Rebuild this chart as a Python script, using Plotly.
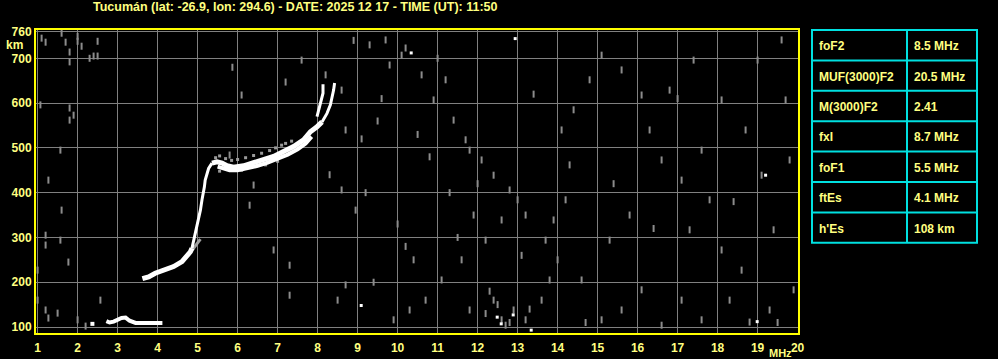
import plotly.graph_objects as go

# ---------------- data ----------------
title_text = "Tucumán (lat: -26.9, lon: 294.6) - DATE: 2025 12 17 - TIME (UT): 11:50"

x_ticks = list(range(1, 21))
y_ticks = [100, 200, 300, 400, 500, 600, 700, 760]

# F trace (o-mode), split where the trace width changes
f_low = [3.62, 3.775, 3.94, 4.15, 4.40, 4.61, 4.735, 4.82, 4.86]
h_low = [208, 212, 220, 227, 235, 246, 257, 268, 276]

f_rise = [4.86, 4.94, 4.985, 5.025, 5.07, 5.11, 5.15, 5.17, 5.19, 5.235, 5.275, 5.36]
h_rise = [276, 309, 324, 346, 361, 384, 399, 413, 428, 443, 454, 466]

f_mid = [5.36, 5.485, 5.61, 5.735, 5.90, 6.15, 6.40, 6.65, 6.90, 7.15, 7.40, 7.65, 7.82, 7.985, 8.11]
h_mid = [466, 469, 466, 460, 457, 460, 467, 474, 481, 492, 503, 518, 536, 547, 558]

# second echo band just under the main F trace
f_mid2 = [5.5, 5.65, 5.8, 6.0, 6.25, 6.5, 6.75, 7.0, 7.25, 7.5, 7.7, 7.85]
h_mid2 = [458, 453, 450, 450, 454, 460, 467, 475, 485, 497, 510, 525]

# gray speckle above the band
f_halo = [5.45, 5.55, 5.7, 5.85, 6.0, 6.2, 6.4, 6.6, 6.8, 6.95, 7.1, 7.2, 7.35, 5.55, 6.1, 6.7, 7.0]
h_halo = [478, 482, 476, 472, 474, 478, 483, 488, 494, 500, 506, 510, 515, 448, 450, 462, 470]

# upper ends of the two branches
f_top_a = [8.11, 8.235, 8.32, 8.36, 8.40, 8.425]
h_top_a = [558, 577, 596, 611, 629, 645]
f_top_b = [7.985, 8.07, 8.135, 8.135]
h_top_b = [570, 600, 622, 642]

# gray spur near the cusp
f_spur = [4.87, 4.95, 5.02, 5.07]
h_spur = [272, 282, 290, 296]

# sporadic E trace
f_es = [2.32, 2.42, None, 2.72, 2.8, 2.9, 3.0, 3.1, 3.2, 3.3, 3.45, 3.6, 3.8, 4.0, 4.12]
h_es = [107, 107, None, 113, 110, 112, 117, 120, 121, 114, 109, 109, 109, 109, 109]

# gray noise echoes
noise_f = [1.1, 1.2, 1.6, 1.7, 1.8, 1.8, 2.0, 2.0, 2.1, 2.4, 2.3, 2.5, 2.5,
           1.8, 1.9, 1.8, 1.07, 1.57, 1.27, 1.6, 1.2, 1.57, 1.2, 1.0, 1.77, 1.0, 1.2, 1.5, 1.27, 2.0, 2.2, 2.57,
           5.87, 6.1, 5.8, 6.4, 6.3, 6.9, 7.3, 8.2, 8.6, 8.7, 8.3, 8.6, 8.95, 8.7, 8.5, 7.3, 7.6, 7.2,
           9.3, 9.7, 9.8, 10.1, 10.2, 10.6, 10.9, 11.2, 11.4, 11.7, 11.8, 12.1, 12.4, 12.8, 13.0, 13.2,
           12.6, 12.2, 11.6, 11.1, 10.7, 10.3, 9.9, 11.8, 12.4, 12.6, 12.7, 12.9, 13.2, 13.6, 13.8, 13.7,
           13.9, 14.2, 14.3, 14.1, 14.4, 14.8, 15.1,
           15.6, 16.1, 16.3, 16.6, 17.1, 17.6, 17.8, 17.3, 18.1, 18.6, 19.1, 19.6, 19.7, 19.9, 19.3, 18.8,
           18.3, 17.6, 17.1, 16.6, 16.1, 15.6, 15.1, 14.6, 15.3, 15.8, 16.8, 17.4, 18.1, 18.7, 19.0, 19.4, 19.8,
           9.2, 9.5, 10.0, 10.4, 10.8, 11.0, 11.5, 12.0, 12.3, 12.5, 13.1, 13.4, 9.4, 10.5, 11.3,
           12.2, 12.8, 13.3, 9.6, 10.2, 11.9, 14.0, 14.7, 15.4, 16.4, 17.0, 18.4, 19.5, 8.9, 9.1]
noise_h = [745, 736, 756, 736, 714, 692, 749, 738, 727, 705, 700, 738, 705,
           589, 573, 562, 596, 495, 428, 361, 305, 294, 283, 227, 245, 160, 138, 131, 120, 116, 102, 160,
           680, 618, 484, 417, 372, 272, 238, 663, 629, 540, 440, 406, 361, 194, 160, 171, 696, 647,
           730, 741, 685, 707, 723, 663, 607, 652, 562, 518, 495, 473, 439, 406, 384, 350,
           339, 294, 250, 205, 160, 138, 116, 138, 160, 116, 104, 138, 116, 160, 205, 294,
           339, 384, 462, 540, 585, 652, 707,
           674, 618, 540, 473, 428, 495, 384, 317, 272, 227, 439, 741, 607, 183, 138, 111,
           160, 116, 160, 104, 183, 138, 116, 205, 294, 350, 629, 696, 607, 540, 696, 317, 473,
           400, 560, 330, 250, 480, 700, 300, 420, 180, 150, 260, 620, 200, 530, 400,
           130, 110, 140, 610, 280, 350, 250, 110, 420, 320, 610, 380, 110, 740, 520]

# white (strong) noise echoes
wnoise_f = [12.94, 10.34, 9.09, 12.49, 12.89, 12.59, 13.34, 18.99, 19.2]
wnoise_h = [744, 712, 148, 122, 127, 107, 93, 112, 439]

# parameter table
param_names = ["foF2", "MUF(3000)F2", "M(3000)F2", "fxI", "foF1", "ftEs", "h'Es"]
param_values = ["8.5 MHz", "20.5 MHz", "2.41", "8.7 MHz", "5.5 MHz", "4.1 MHz", "108 km"]

# ---------------- figure ----------------
W, H = 998, 359
ML, MR, MT, MB = 36, 200, 30, 26
PW, PH = W - ML - MR, H - MT - MB

def px_x(px):
    return (px - ML) / PW

def px_y(py):
    return (H - MB - py) / PH

YEL = "#ffff00"
TXT = "#ffff80"
GRID = "#808080"
FONT = "Liberation Sans"

fig = go.Figure()

gray_mark = dict(symbol="line-ns", size=5, line=dict(width=2, color="#8c8c8c"))
fig.add_trace(go.Scatter(x=noise_f, y=noise_h, mode="markers", marker=gray_mark, hoverinfo="skip"))
fig.add_trace(go.Scatter(x=wnoise_f, y=wnoise_h, mode="markers",
                         marker=dict(symbol="square", size=3, color="white", line=dict(width=0)),
                         hoverinfo="skip"))
fig.add_trace(go.Scatter(x=f_halo, y=h_halo, mode="markers",
                         marker=dict(symbol="square", size=3, color="#9a9a9a", line=dict(width=0)),
                         hoverinfo="skip"))
fig.add_trace(go.Scatter(x=f_spur, y=h_spur, mode="lines",
                         line=dict(color="#a0a0a0", width=3), hoverinfo="skip"))

white = dict(color="white")
fig.add_trace(go.Scatter(x=f_low, y=h_low, mode="lines", line=dict(white, width=5), hoverinfo="skip"))
fig.add_trace(go.Scatter(x=f_rise, y=h_rise, mode="lines", line=dict(white, width=3), hoverinfo="skip"))
fig.add_trace(go.Scatter(x=f_mid, y=h_mid, mode="lines", line=dict(white, width=5), hoverinfo="skip"))
fig.add_trace(go.Scatter(x=f_mid2, y=h_mid2, mode="lines", line=dict(white, width=4), hoverinfo="skip"))
fig.add_trace(go.Scatter(x=f_top_a, y=h_top_a, mode="lines", line=dict(white, width=3), hoverinfo="skip"))
fig.add_trace(go.Scatter(x=f_top_b, y=h_top_b, mode="lines", line=dict(white, width=3), hoverinfo="skip"))
fig.add_trace(go.Scatter(x=f_es, y=h_es, mode="lines", line=dict(white, width=4),
                         connectgaps=False, hoverinfo="skip"))

fig.update_xaxes(range=[0.96, 20.01], tickvals=x_ticks, ticktext=[str(v) for v in x_ticks],
                 showgrid=True, gridcolor=GRID, gridwidth=1, zeroline=False,
                 showline=True, linecolor=YEL, linewidth=2, mirror=True, ticks="",
                 ticklabelstandoff=3, automargin=False,
                 tickfont=dict(family=FONT, size=12, color=TXT, weight="bold"))
fig.update_yaxes(range=[86.6, 763.2], tickvals=y_ticks, ticktext=[str(v) for v in y_ticks],
                 showgrid=True, gridcolor=GRID, gridwidth=1, zeroline=False,
                 showline=True, linecolor=YEL, linewidth=2, mirror=True, ticks="",
                 automargin=False,
                 tickfont=dict(family=FONT, size=12, color=TXT, weight="bold"))

annotations = [
    dict(text=title_text, x=px_x(295), y=px_y(7), xref="paper", yref="paper",
         showarrow=False, font=dict(family=FONT, size=12.5, color=TXT, weight="bold"),
         xanchor="center", yanchor="middle"),
    dict(text="km", x=px_x(14), y=px_y(45), xref="paper", yref="paper",
         showarrow=False, font=dict(family=FONT, size=12, color=TXT, weight="bold"),
         xanchor="center", yanchor="middle"),
    dict(text="MHz", x=px_x(780), y=px_y(352.5), xref="paper", yref="paper",
         showarrow=False, font=dict(family=FONT, size=11, color=TXT, weight="bold"),
         xanchor="center", yanchor="middle"),
]

shapes = []
CYAN = "#00e0e0"
t_left, t_right, t_split, t_top, row_h = 812, 977, 907, 30, 30.4
n = len(param_names)
t_bot = t_top + n * row_h
shapes.append(dict(type="rect", xref="paper", yref="paper",
                   x0=px_x(t_left), x1=px_x(t_right), y0=px_y(t_bot), y1=px_y(t_top),
                   line=dict(color=CYAN, width=2)))
shapes.append(dict(type="line", xref="paper", yref="paper",
                   x0=px_x(t_split), x1=px_x(t_split), y0=px_y(t_bot), y1=px_y(t_top),
                   line=dict(color=CYAN, width=2)))
for i in range(1, n):
    yy = t_top + i * row_h
    shapes.append(dict(type="line", xref="paper", yref="paper",
                       x0=px_x(t_left), x1=px_x(t_right), y0=px_y(yy), y1=px_y(yy),
                       line=dict(color=CYAN, width=2)))
for i, (nm, val) in enumerate(zip(param_names, param_values)):
    yc = t_top + (i + 0.5) * row_h + 1
    annotations.append(dict(text=nm, x=px_x(817), y=px_y(yc), xref="paper", yref="paper",
                            showarrow=False, xanchor="left", yanchor="middle",
                            font=dict(family=FONT, size=12, color=TXT, weight="bold")))
    annotations.append(dict(text=val, x=px_x(912), y=px_y(yc), xref="paper", yref="paper",
                            showarrow=False, xanchor="left", yanchor="middle",
                            font=dict(family=FONT, size=12, color=TXT, weight="bold")))

fig.update_layout(width=W, height=H, margin=dict(l=ML, r=MR, t=MT, b=MB, pad=0),
                  paper_bgcolor="black", plot_bgcolor="black", showlegend=False,
                  annotations=annotations, shapes=shapes)

fig.write_html("out.html")
